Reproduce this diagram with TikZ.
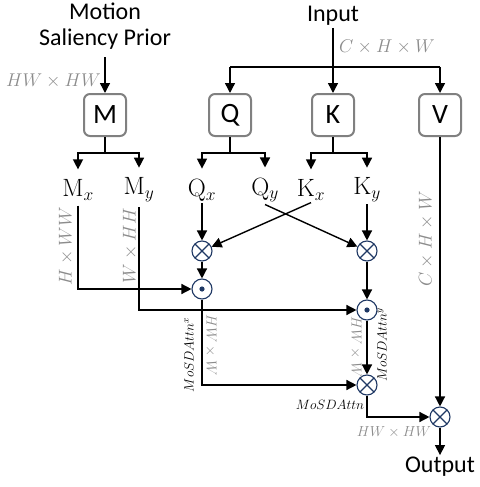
\RequirePackage{fix-cm}
\documentclass[tikz,border=0pt]{standalone}
\usepackage{amsmath}
\usepackage{fontspec}
\newfontfamily\calib{Carlito}
\usepackage{tikz}
\usetikzlibrary{arrows.meta,positioning,calc}

\definecolor{opnavy}{RGB}{31,56,100}
\definecolor{boxgray}{RGB}{128,128,128}
\definecolor{dimgray}{RGB}{140,140,140}

\tikzset{
  toplbl/.style={font=\calib\fontsize{24}{26}\selectfont, inner sep=2pt},
  proj/.style={draw=boxgray, line width=2pt, rounded corners=6pt, minimum width=42pt,
    minimum height=42pt, inner sep=0pt, font=\calib\fontsize{28}{30}\selectfont},
  split/.style={font=\fontsize{25}{27}\selectfont, inner sep=2pt},
  dimlbl/.style={text=dimgray, font=\fontsize{18.5}{20}\selectfont, inner sep=1pt},
  dimsmall/.style={text=dimgray, font=\fontsize{14.5}{16}\selectfont, inner sep=1pt},
  attnlbl/.style={font=\fontsize{13.5}{15}\selectfont, inner sep=1pt},
  opcirc/.style={circle, draw=opnavy, line width=1.1pt, minimum size=20pt, inner sep=0pt},
  optimes/.style={opcirc, path picture={
    \draw[opnavy, line width=1.1pt] (path picture bounding box.north west) -- (path picture bounding box.south east)
      (path picture bounding box.north east) -- (path picture bounding box.south west);}},
  opdot/.style={opcirc, path picture={
    \fill[opnavy] (path picture bounding box.center) circle (2.6pt);}},
  wire/.style={line width=1.4pt},
  flow/.style={line width=1.4pt, -{Triangle[length=10pt,width=10pt]}}
}

\begin{document}
\begin{tikzpicture}[x=1pt,y=-1pt]
\useasboundingbox (0,0) rectangle (479,487);
% Inputs
\node[toplbl, align=center] (prior) at (105,26) {Motion\\Saliency Prior};
\node[toplbl] (input) at (333,16) {Input};
% Projections
\foreach \n/\x in {M/105,Q/230,K/333,V/440}
  \node[proj] (\n) at (\x,115) {\n};
% Split features
\foreach \n/\a/\b/\x in {mx/M/x/78, my/M/y/139, qx/Q/x/202, qy/Q/y/265, kx/K/x/311, ky/K/y/367}
  \node[split] (\n) at (\x,190) {$\mathrm{\a}_\b$};
% Operators
\node[optimes] (mulx) at (202,251) {};
\node[optimes] (muly) at (367,251) {};
\node[opdot] (dotx) at (202,289) {};
\node[opdot] (doty) at (367,310) {};
\node[optimes] (attn) at (367,385) {};
\node[optimes] (mulv) at (440,417) {};
\node[toplbl] (output) at (440,467) {Output};

% Input branches
\coordinate (infork) at (333,67);
\draw[flow, shorten <=6pt] (prior.south) -- (M.north);
\draw[wire] (input.south) -- (infork);
\draw[wire] (Q.north |- infork) -- (V.north |- infork);
\foreach \n in {Q,K,V}
  \draw[flow] (\n.north |- infork) -- (\n.north);
% Splits into x / y
\foreach \n/\f/\a/\b in {M/mfork/mx/my, Q/qfork/qx/qy, K/kfork/kx/ky} {
  \draw[wire] (\n.south) -- ++(0,16) coordinate (\f);
  \draw[flow, shorten >=8pt] (\f) -| (\a.north);
  \draw[flow, shorten >=8pt] (\f) -| (\b.north);
}
% Attention
\draw[flow] (qx.south) -- (mulx);
\draw[flow] (kx.south) -- (mulx);
\draw[flow] (qy.south) -- (muly);
\draw[flow] (ky.south) -- (muly);
\draw[flow] (mulx) -- (dotx);
\draw[flow] (muly) -- (doty);
\draw[flow, shorten <=3pt] (mx.south) |- (dotx.west);
\draw[flow, shorten <=3pt] (my.south) |- (doty.west);
\draw[flow] (dotx.south) |- (attn.west);
\draw[flow] (doty) -- (attn);
\draw[flow] (attn.south) |- (mulv.west);
\draw[flow] (V) -- (mulv);
\draw[flow] (mulv) -- (output);

% Sizes and names
\node[dimlbl, anchor=east] (priorsz) at (102,81) {$HW\times HW$};
\node[dimlbl, anchor=west] (inputsz) at (338,47) {$C\times H\times W$};
\node[dimlbl, rotate=90] (mxsz) at (66,246) {$H\times WW$};
\node[dimlbl, rotate=90] (mysz) at (130,246) {$W\times HH$};
\node[dimlbl, rotate=90] (vsz) at (426,239) {$C\times H\times W$};
\node[attnlbl, rotate=90] (attnx) at (189,355) {$MoSDAttn^x$};
\node[dimsmall, rotate=-90] (attnxsz) at (211,345) {$HW\times W$};
\node[dimsmall, rotate=-90] (attnysz) at (356,347) {$HW\times W$};
\node[attnlbl, rotate=90] (attny) at (382,345) {$MoSDAttn^y$};
\node[attnlbl] (attnlb) at (330,405) {$MoSDAttn$};
\node[dimsmall] (outsz) at (394,432) {$HW\times HW$};
\end{tikzpicture}
\end{document}
